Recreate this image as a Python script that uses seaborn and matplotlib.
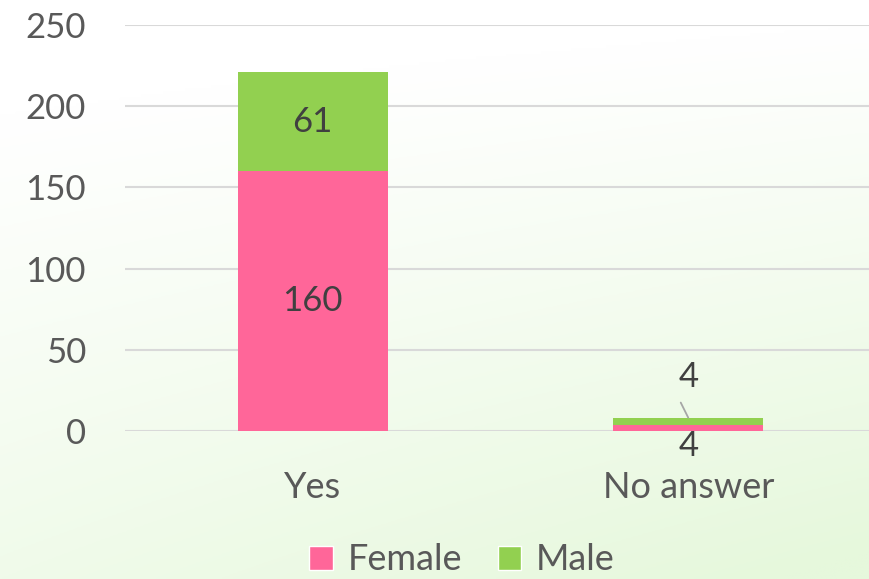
import numpy as np
import pandas as pd
import matplotlib
matplotlib.use("Agg")
import matplotlib.pyplot as plt
import seaborn as sns
from matplotlib.patches import Patch

categories = ["Yes", "No answer"]
female = [160, 4]
male = [61, 4]
yticks = [0, 50, 100, 150, 200, 250]

PINK = "#FF6699"
GREEN = "#92D050"

sns.set_theme(style="white")
plt.rcParams["font.family"] = ["Lato", "DejaVu Sans"]

FS = 25

fig = plt.figure(figsize=(8.69, 5.79), dpi=100)

# background gradient
bg = fig.add_axes([0, 0, 1, 1], zorder=-10)
h, w = 200, 200
yy, xx = np.mgrid[0:1:h * 1j, 0:1:w * 1j]
t = np.clip(0.75 * yy + 0.35 * xx * yy + 0.1 * xx - 0.15, 0, 1)
top = np.array([1.0, 1.0, 1.0])
bot = np.array([0xE6, 0xF8, 0xDC]) / 255.0
img = top[None, None, :] * (1 - t[..., None]) + bot[None, None, :] * t[..., None]
bg.imshow(img, aspect="auto", extent=[0, 1, 0, 1], origin="upper")
bg.axis("off")

ax = fig.add_axes([125 / 869, 148 / 579, 751 / 869, 406 / 579])
ax.patch.set_alpha(0)

df = pd.DataFrame({"cat": categories, "female": female, "male": male})
df["total"] = df["female"] + df["male"]

sns.barplot(data=df, x="cat", y="total", color=GREEN, width=0.4, ax=ax,
            saturation=1, zorder=3, linewidth=0)
sns.barplot(data=df, x="cat", y="female", color=PINK, width=0.4, ax=ax,
            saturation=1, zorder=4, linewidth=0)

ax.set_xlim(-0.5, 1.5)
ax.set_ylim(0, 250)
ax.set_yticks(yticks)
ax.set_yticklabels([str(v) for v in yticks])
ax.yaxis.grid(True, color="#D9D9D9", linewidth=1.5, zorder=0)
ax.set_axisbelow(True)
for s in ax.spines.values():
    s.set_visible(False)
ax.set_xlabel("")
ax.set_ylabel("")
ax.tick_params(axis="y", length=0, pad=28, labelsize=FS, labelcolor="#595959")
ax.tick_params(axis="x", length=0, pad=29, labelsize=26, labelcolor="#595959")

lab_kw = dict(ha="center", va="center", fontsize=FS, color="#404040", zorder=6)
# Yes
ax.text(0, female[0] / 2, str(female[0]), **lab_kw)
ax.text(0, female[0] + male[0] / 2, str(male[0]), **lab_kw)
# No answer
ax.text(1, -9, str(female[1]), **lab_kw)
ax.text(1, 33, str(male[1]), **lab_kw)
ax.plot([0.98, 1.0], [17.5, 8.2], color="#A6A6A6", lw=1.3, zorder=6)

handles = [Patch(facecolor=PINK, label="Female"), Patch(facecolor=GREEN, label="Male")]
leg = fig.legend(handles=handles, loc="center", bbox_to_anchor=(462 / 869, 1 - 560 / 579),
                 ncol=2, frameon=False, fontsize=26, handlelength=0.65, handleheight=0.65,
                 handletextpad=0.4, columnspacing=1.0)
for txt in leg.get_texts():
    txt.set_color("#595959")

fig.savefig("out.png", dpi=100)
